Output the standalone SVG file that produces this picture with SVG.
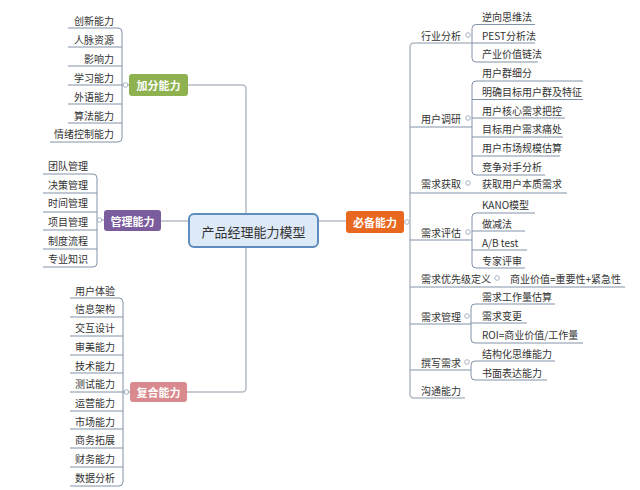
<svg xmlns="http://www.w3.org/2000/svg" width="640" height="490" viewBox="0 0 640 490">
<style>
.t{font-family:"Noto Sans CJK SC","Noto Sans",sans-serif;font-size:10px;fill:#333;dominant-baseline:central}
.c{font-family:"Noto Sans CJK SC","Noto Sans",sans-serif;font-size:13px;fill:#333;dominant-baseline:central;text-anchor:middle}
.b{font-family:"Noto Sans CJK SC","Noto Sans",sans-serif;font-size:11px;font-weight:bold;fill:#fff;dominant-baseline:central;text-anchor:middle}
.trunk{fill:none;stroke:#b4bcc6;stroke-width:1.5}
.leaf{fill:none;stroke:#8292a8;stroke-width:1}
.dot{fill:#fff;stroke:#a8b3c2;stroke-width:1}
.e{text-anchor:end}
</style>
<rect width="640" height="490" fill="#fff"/>
<g id="connectors">
<!-- main trunks -->
<path class="trunk" d="M187 85 H242 Q246 85 246 89 V388 Q246 392 242 392 H187"/>
<line class="trunk" x1="161" y1="221" x2="189" y2="221"/>
<line class="trunk" x1="318" y1="221" x2="346" y2="221"/>
<line class="trunk" x1="404" y1="222" x2="410" y2="222"/>
<path class="trunk" d="M472 43 H414 Q410 43 410 47 V394 Q410 398 414 398 H465"/>
<!-- right level-2 underlines -->
<line class="leaf" x1="410" y1="127" x2="472" y2="127"/>
<line class="leaf" x1="410" y1="193" x2="567" y2="193"/>
<line class="leaf" x1="410" y1="240" x2="472" y2="240"/>
<line class="leaf" x1="410" y1="287" x2="625" y2="287"/>
<line class="leaf" x1="410" y1="324" x2="471" y2="324"/>
<line class="leaf" x1="410" y1="370" x2="471" y2="370"/>
<!-- 行业分析 children -->
<path class="leaf" d="M535 24.5 H476 Q472 24.5 472 28.5 V58 Q472 62 476 62 H538"/>
<line class="leaf" x1="472" y1="43" x2="535" y2="43"/>
<!-- 用户调研 children -->
<path class="leaf" d="M583 81 H476 Q472 81 472 85 V171 Q472 175 476 175 H545"/>
<line class="leaf" x1="472" y1="99.5" x2="583" y2="99.5"/>
<line class="leaf" x1="472" y1="118" x2="565" y2="118"/>
<line class="leaf" x1="472" y1="137" x2="563" y2="137"/>
<line class="leaf" x1="472" y1="156" x2="560" y2="156"/>
<!-- 需求评估 children -->
<path class="leaf" d="M535 213 H476 Q472 213 472 217 V264 Q472 268 476 268 H525"/>
<line class="leaf" x1="472" y1="231" x2="525" y2="231"/>
<line class="leaf" x1="472" y1="250" x2="527" y2="250"/>
<!-- 需求管理 children -->
<path class="leaf" d="M555 304 H475 Q471 304 471 308 V339 Q471 343 475 343 H583"/>
<line class="leaf" x1="471" y1="323" x2="527" y2="323"/>
<!-- 撰写需求 children -->
<path class="leaf" d="M555 361 H475 Q471 361 471 365 V376 Q471 380 475 380 H547"/>
<!-- 加分能力 children -->
<path class="leaf" d="M68 28 H118 Q122 28 122 32 V138 Q122 142 118 142 H50"/>
<line class="leaf" x1="68" y1="47" x2="122" y2="47"/>
<line class="leaf" x1="68" y1="66" x2="122" y2="66"/>
<line class="leaf" x1="68" y1="85" x2="129" y2="85"/>
<line class="leaf" x1="68" y1="104" x2="122" y2="104"/>
<line class="leaf" x1="68" y1="123" x2="122" y2="123"/>
<!-- 管理能力 children -->
<path class="leaf" d="M43 174 H93 Q97 174 97 178 V263 Q97 267 93 267 H43"/>
<line class="leaf" x1="43" y1="193" x2="97" y2="193"/>
<line class="leaf" x1="43" y1="212" x2="97" y2="212"/>
<line class="leaf" x1="43" y1="230" x2="97" y2="230"/>
<line class="leaf" x1="43" y1="249" x2="97" y2="249"/>
<line class="leaf" x1="97" y1="220" x2="104" y2="220"/>
<!-- 复合能力 children -->
<path class="leaf" d="M70 298 H119 Q123 298 123 302 V482 Q123 486 119 486 H70"/>
<line class="leaf" x1="70" y1="317" x2="123" y2="317"/>
<line class="leaf" x1="70" y1="336" x2="123" y2="336"/>
<line class="leaf" x1="70" y1="355" x2="123" y2="355"/>
<line class="leaf" x1="70" y1="373" x2="123" y2="373"/>
<line class="leaf" x1="70" y1="392" x2="130" y2="392"/>
<line class="leaf" x1="70" y1="411" x2="123" y2="411"/>
<line class="leaf" x1="70" y1="429" x2="123" y2="429"/>
<line class="leaf" x1="70" y1="448" x2="123" y2="448"/>
<line class="leaf" x1="70" y1="467" x2="123" y2="467"/>
<!-- collapse dots -->
<circle class="dot" cx="125.5" cy="85" r="2.3"/>
<circle class="dot" cx="99.5" cy="220" r="2.3"/>
<circle class="dot" cx="126.5" cy="392" r="2.3"/>
<circle class="dot" cx="407" cy="222" r="2.3"/>
<circle class="dot" cx="468" cy="35" r="2.3"/>
<circle class="dot" cx="468" cy="118" r="2.3"/>
<circle class="dot" cx="468" cy="183" r="2.3"/>
<circle class="dot" cx="468" cy="232" r="2.3"/>
<circle class="dot" cx="497" cy="278" r="2.3"/>
<circle class="dot" cx="467" cy="316" r="2.3"/>
<circle class="dot" cx="467" cy="362" r="2.3"/>
</g>
<g id="center">
<rect x="189" y="214" width="129" height="33" rx="5" fill="#dde9f6" stroke="#5d8cbf" stroke-width="2"/>
<text class="c" x="253.5" y="231">产品经理能力模型</text>
</g>
<g id="jiafen">
<rect x="129" y="74" width="59" height="22" rx="3" fill="#8db24f"/>
<text class="b" x="158.5" y="85">加分能力</text>
</g>
<g id="guanli">
<rect x="104" y="210" width="57" height="21" rx="3" fill="#7b5c9c"/>
<text class="b" x="132.5" y="220.5">管理能力</text>
</g>
<g id="fuhe">
<rect x="130" y="382" width="57" height="20" rx="3" fill="#d98a8e"/>
<text class="b" x="158.5" y="392">复合能力</text>
</g>
<g id="bibei">
<rect x="346" y="211" width="58" height="22" rx="3" fill="#e8681f"/>
<text class="b" x="375" y="222">必备能力</text>
</g>
<g id="jiafen-children">
<text class="t e" x="114" y="20">创新能力</text>
<text class="t e" x="114" y="39">人脉资源</text>
<text class="t e" x="114" y="58">影响力</text>
<text class="t e" x="114" y="77">学习能力</text>
<text class="t e" x="114" y="96">外语能力</text>
<text class="t e" x="114" y="115">算法能力</text>
<text class="t e" x="114" y="133">情绪控制能力</text>
</g>
<g id="guanli-children">
<text class="t" x="48" y="165">团队管理</text>
<text class="t" x="48" y="184">决策管理</text>
<text class="t" x="48" y="202">时间管理</text>
<text class="t" x="48" y="221">项目管理</text>
<text class="t" x="48" y="240">制度流程</text>
<text class="t" x="48" y="258">专业知识</text>
</g>
<g id="fuhe-children">
<text class="t" x="75" y="290">用户体验</text>
<text class="t" x="75" y="308">信息架构</text>
<text class="t" x="75" y="327">交互设计</text>
<text class="t" x="75" y="346">审美能力</text>
<text class="t" x="75" y="365">技术能力</text>
<text class="t" x="75" y="383">测试能力</text>
<text class="t" x="75" y="402">运营能力</text>
<text class="t" x="75" y="421">市场能力</text>
<text class="t" x="75" y="439">商务拓展</text>
<text class="t" x="75" y="458">财务能力</text>
<text class="t" x="75" y="477">数据分析</text>
</g>
<g id="bibei-children">
<text class="t" x="421" y="35">行业分析</text>
<text class="t" x="421" y="118">用户调研</text>
<text class="t" x="421" y="183">需求获取</text>
<text class="t" x="421" y="232">需求评估</text>
<text class="t" x="421" y="278">需求优先级定义</text>
<text class="t" x="421" y="316">需求管理</text>
<text class="t" x="421" y="362">撰写需求</text>
<text class="t" x="421" y="390">沟通能力</text>
</g>
<g id="leaf-right">
<text class="t" x="482" y="16">逆向思维法</text>
<text class="t" x="482" y="35">PEST分析法</text>
<text class="t" x="482" y="53">产业价值链法</text>
<text class="t" x="482" y="72">用户群细分</text>
<text class="t" x="482" y="91">明确目标用户群及特征</text>
<text class="t" x="482" y="110">用户核心需求把控</text>
<text class="t" x="482" y="128">目标用户需求痛处</text>
<text class="t" x="482" y="147">用户市场规模估算</text>
<text class="t" x="482" y="166">竞争对手分析</text>
<text class="t" x="482" y="183">获取用户本质需求</text>
<text class="t" x="482" y="204">KANO模型</text>
<text class="t" x="482" y="223">做减法</text>
<text class="t" x="482" y="242">A/B test</text>
<text class="t" x="482" y="260">专家评审</text>
<text class="t" x="510" y="278">商业价值=重要性+紧急性</text>
<text class="t" x="482" y="296">需求工作量估算</text>
<text class="t" x="482" y="315">需求变更</text>
<text class="t" x="482" y="334">ROI=商业价值/工作量</text>
<text class="t" x="482" y="353">结构化思维能力</text>
<text class="t" x="482" y="372">书面表达能力</text>
</g>
</svg>
